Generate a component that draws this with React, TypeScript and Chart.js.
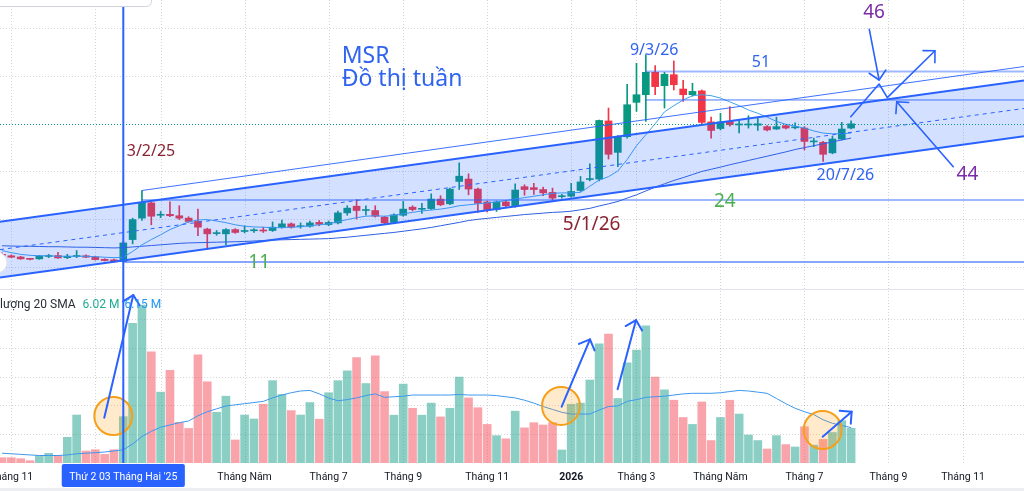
import React, { useEffect, useRef } from 'react';
import { Chart, registerables } from 'chart.js';

Chart.register(...registerables);

// ---------- weekly candles (MSR), index 0 = week of 4/11/2024 ----------
const openP = [
  12.6, 12.3, 12.05, 11.65, 11.65, 12.15, 12.35, 11.9, 12.15, 12.3,
  12.05, 11.55, 11.45, 11.1, 15.7, 20.2, 23.4, 20.8, 21.0, 20.7,
  20.2, 19.5, 17.9, 16.95, 16.9, 17.8, 17.4, 17.55, 17.65, 17.6,
  18.3, 19.0, 18.4, 18.5, 19.3, 18.85, 19.2, 21.3, 22.7, 21.8,
  21.8, 20.4, 19.3, 20.8, 22.5, 22.05, 22.2, 24.2, 23.2, 27.9,
  28.4, 26.3, 23.6, 22.0, 23.6, 22.7, 26.8, 26.6, 26.2, 25.6,
  24.7, 24.8, 26.0, 28.3, 28.4, 40.6, 34.0, 37.3, 44.5, 46.1,
  50.8, 48.0, 50.3, 47.3, 46.1, 46.9, 40.4, 39.0, 40.5, 39.75,
  39.75, 39.7, 39.4, 38.9, 39.6, 39.15, 39.1, 36.2, 36.1, 33.9,
  36.8, 39.1,
];
const highP = [
  12.9, 12.5, 12.2, 11.75, 12.4, 12.6, 13.0, 12.6, 13.4, 12.5,
  12.2, 11.7, 11.6, 15.2, 20.2, 26.0, 23.6, 21.6, 23.6, 22.8,
  20.5, 22.1, 18.1, 17.6, 18.0, 18.0, 18.6, 18.0, 18.3, 19.4,
  19.8, 19.2, 19.2, 19.6, 19.7, 19.6, 21.7, 22.8, 24.1, 22.8,
  22.8, 20.6, 21.1, 23.7, 22.8, 23.3, 25.3, 24.9, 26.5, 31.8,
  29.5, 26.5, 23.8, 23.8, 23.9, 27.4, 27.2, 27.5, 26.7, 26.5,
  25.2, 27.5, 28.95, 31.6, 40.8, 43.3, 37.5, 48.3, 52.7, 54.5,
  52.2, 50.8, 53.2, 49.1, 48.5, 47.1, 41.4, 42.2, 43.6, 40.8,
  41.7, 41.2, 39.6, 41.4, 39.8, 40.2, 39.4, 37.0, 36.3, 37.4,
  40.3, 40.6,
];
const lowP = [
  12.2, 11.9, 11.55, 11.45, 11.55, 11.9, 11.75, 11.7, 11.9, 11.9,
  11.4, 11.2, 10.95, 11.0, 14.8, 19.7, 18.8, 20.3, 20.5, 19.9,
  19.3, 16.5, 13.7, 16.6, 14.6, 17.0, 17.1, 17.2, 17.2, 17.4,
  18.1, 18.1, 18.1, 18.3, 18.6, 18.6, 19.0, 20.8, 20.0, 20.8,
  20.4, 19.0, 19.1, 20.6, 21.7, 21.2, 22.0, 22.8, 23.0, 26.2,
  25.1, 21.4, 21.5, 21.6, 22.6, 22.5, 25.0, 25.2, 24.9, 24.0,
  24.4, 24.6, 25.8, 28.0, 28.0, 32.6, 31.0, 37.0, 42.6, 40.5,
  46.1, 43.3, 47.1, 44.7, 45.8, 39.9, 37.0, 38.7, 39.5, 38.1,
  39.1, 38.6, 38.5, 38.8, 38.9, 38.9, 34.5, 35.2, 32.1, 33.7,
  36.6, 38.9,
];
const closeP = [
  12.4, 12.0, 11.65, 11.55, 12.25, 12.25, 11.85, 12.2, 12.25, 12.0,
  11.5, 11.3, 11.05, 15.0, 19.9, 23.5, 20.6, 21.0, 20.7, 20.2,
  19.5, 18.3, 16.9, 17.1, 17.8, 17.2, 17.55, 17.6, 17.5, 18.3,
  19.0, 18.3, 18.55, 19.2, 18.9, 19.3, 21.3, 22.3, 21.8, 21.9,
  20.6, 19.2, 20.9, 22.1, 22.0, 22.2, 24.2, 23.0, 26.3, 29.0,
  26.3, 23.3, 22.0, 23.6, 22.8, 26.1, 26.2, 26.2, 25.5, 24.4,
  24.85, 25.8, 27.8, 28.5, 40.7, 33.6, 37.3, 44.0, 46.1, 50.8,
  47.8, 50.4, 48.2, 46.1, 46.8, 40.3, 38.6, 40.4, 39.8, 39.85,
  39.9, 40.0, 38.7, 39.4, 39.1, 39.25, 36.3, 36.4, 33.6, 36.8,
  38.9, 40.0,
];
// volume in millions
const volume = [
  0.92, 0.92, 0.75, 0.4, 1.27, 1.68, 1.22, 4.46, 8.33, 2.08,
  2.3, 1.5, 2.3, 8.04, 24.25, 27.4, 19.3, 12.3, 16.1, 7.06,
  6.0, 18.8, 14.1, 8.8, 11.6, 4.0, 8.33, 7.64, 10.2, 14.3,
  11.9, 9.1, 8.33, 10.5, 7.6, 12.2, 14.3, 16.0, 18.3, 13.8,
  18.6, 12.4, 8.3, 13.7, 9.5, 8.3, 10.4, 8.0, 9.5, 14.9,
  11.3, 9.6, 6.7, 4.75, 4.2, 9.0, 6.1, 7.0, 6.6, 7.0,
  2.26, 10.2, 10.4, 14.4, 20.7, 22.4, 11.2, 17.4, 19.6, 23.8,
  14.9, 12.7, 10.9, 7.9, 6.7, 10.6, 3.9, 7.9, 10.9, 8.5,
  4.86, 3.9, 2.43, 4.75, 3.2, 2.78, 6.3, 3.1, 4.1, 5.3,
  7.35, 6.02,
];
// short moving average (light blue)
const maShort = [
  13.4, 12.95, 12.6, 12.4, 12.3, 12.3, 12.2, 12.2, 12.2, 12.2,
  12.1, 12.0, 11.9, 12.0, 13.2, 14.6, 15.7, 16.7, 17.8, 18.6,
  19.45, 19.8, 19.9, 19.6, 19.25, 18.8, 18.5, 18.35, 18.3, 18.2,
  18.2, 18.3, 18.4, 18.6, 18.8, 19.0, 19.45, 19.9, 20.3, 20.6,
  20.7, 20.6, 20.8, 21.1, 21.4, 21.7, 21.9, 22.1, 22.4, 22.8,
  23.0, 23.2, 23.4, 23.6, 23.9, 24.2, 24.5, 24.8, 25.1, 25.4,
  25.5, 25.5, 25.6, 26.9, 28.2, 28.9, 30.1, 32.5, 35.4, 37.7,
  40.0, 42.5, 43.8, 45.0, 45.9, 46.1, 45.9, 45.4, 44.6, 43.8,
  42.9, 42.2, 41.4, 40.5, 39.9, 39.5, 39.1, 38.5, 38.05, 37.9,
  37.9, 38.05,
];
// long moving average (blue)
const maLong = [
  14.4, 14.35, 14.3, 14.3, 14.25, 14.2, 14.2, 14.15, 14.1, 14.1,
  14.05, 14.0, 13.95, 14.0, 14.15, 14.3, 14.45, 14.6, 14.75, 14.9,
  15.0, 15.05, 15.1, 15.15, 15.2, 15.25, 15.3, 15.4, 15.5, 15.6,
  15.65, 15.7, 15.75, 15.8, 15.85, 15.9, 16.05, 16.2, 16.4, 16.6,
  16.8, 17.0, 17.2, 17.45, 17.7, 17.95, 18.25, 18.6, 18.95, 19.3,
  19.7, 19.95, 20.15, 20.35, 20.55, 20.75, 20.95, 21.1, 21.25, 21.4,
  21.5, 21.65, 21.95, 22.25, 22.75, 23.2, 23.7, 24.4, 25.1, 25.9,
  26.7, 27.4, 28.1, 28.7, 29.35, 30.0, 30.45, 30.9, 31.4, 31.85,
  32.3, 32.75, 33.2, 33.65, 34.1, 34.6, 35.0, 35.4, 35.8, 36.2,
  36.6, 37.0,
];
// volume 20 SMA
const volSma = [
  1.7, 1.6, 1.5, 1.4, 1.3, 1.3, 1.3, 1.4, 1.6, 1.7,
  1.8, 1.9, 2.1, 2.3, 3.3, 4.6, 5.5, 6.2, 6.6, 7.0,
  7.3, 8.2, 8.9, 9.4, 9.9, 10.1, 10.3, 10.5, 10.7, 11.3,
  11.8, 12.2, 12.5, 12.6, 12.0, 11.3, 10.8, 11.0, 11.3, 11.7,
  12.0, 11.4, 11.5, 11.6, 11.8, 11.8, 11.8, 11.8, 11.8, 11.9,
  11.8, 11.8, 11.8, 11.7, 11.5, 11.3, 10.9, 10.4, 9.8, 9.3,
  8.8, 8.5, 8.5, 8.5, 9.2, 9.8, 9.9, 10.7, 11.0, 11.4,
  11.5, 11.6, 11.8, 12.0, 12.1, 12.1, 12.1, 12.2, 12.4, 12.6,
  12.5, 12.3, 12.1, 11.2, 10.3, 9.5, 8.9, 8.4, 7.5, 6.9,
  6.5, 6.15,
];

// time axis
const tickIndex = [1, 10, 17, 26, 35, 43, 52, 61, 68, 77, 86, 95, 103];
const tickLabel = ['Tháng 11', '2025', 'Tháng 3', 'Tháng Năm', 'Tháng 7', 'Tháng 9', 'Tháng 11', '2026', 'Tháng 3', 'Tháng Năm', 'Tháng 7', 'Tháng 9', 'Tháng 11'];
const crosshairIndex = 13;
const crosshairLabel = "Thứ 2 03 Tháng Hai '25";
const priceGrid = [10, 20, 30, 40, 50, 60];
const volGrid = [5, 10, 15, 20, 25];
const volLegendTitle = 'Khối lượng 20 SMA';
const volLegendVol = '6.02 M';
const volLegendSma = '6.15 M';

// drawings (index, price) / (index, volume)
const channelTop: [number, number][] = [[0, 19.5], [91, 44.07]];
const channelBottom: [number, number][] = [[0, 7.8], [91, 32.37]];
const thinUpper: [number, number][] = [[15, 26.0], [100, 49.4]];
const hLines = [
  { from: 13, p: 11, w: 1.5, c: 'rgba(41,98,255,0.75)' },
  { from: 15, p: 24, w: 2, c: 'rgba(41,98,255,0.45)' },
  { from: 69, p: 45, w: 1, c: 'rgba(41,98,255,0.85)' },
  { from: 69, p: 51, w: 2, c: 'rgba(41,98,255,0.45)' },
];
const TEXT_BLUE = '#2f63f0';
const MAROON = '#8a2433';
const PURPLE = '#7b2ba6';
const GREEN_T = '#4caf50';
const notes = [
  { t: 'MSR', i: 36.4, p: 52.82, c: TEXT_BLUE, s: 23 },
  { t: 'Đồ thị tuần', i: 36.4, p: 47.95, c: TEXT_BLUE, s: 23 },
  { t: '3/2/25', i: 13.37, p: 33.2, c: MAROON, s: 16 },
  { t: '9/3/26', i: 67.3, p: 54.44, c: TEXT_BLUE, s: 16 },
  { t: '51', i: 80.35, p: 51.98, c: TEXT_BLUE, s: 16 },
  { t: '46', i: 92.3, p: 62.14, c: PURPLE, s: 19 },
  { t: '44', i: 102.3, p: 28.21, c: PURPLE, s: 19 },
  { t: '20/7/26', i: 87.3, p: 28.21, c: TEXT_BLUE, s: 16 },
  { t: '24', i: 76.3, p: 22.56, c: GREEN_T, s: 19 },
  { t: '11', i: 26.4, p: 9.67, c: GREEN_T, s: 19 },
  { t: '5/1/26', i: 60.1, p: 17.71, c: MAROON, s: 19 },
];
const priceArrows: [number, number][][] = [
  [[92.95, 59.83], [94.0, 49.19]],
  [[101.95, 31.0], [95.89, 44.64]],
  [[90.96, 41.49], [94.0, 48.35], [94.88, 45.48], [99.99, 55.34]],
];
const volArrows: [number, number][][] = [
  [[10.96, 7.86], [14.07, 29.16]],
  [[59.98, 9.77], [63.02, 21.47]],
  [[65.98, 12.79], [67.95, 24.82]],
  [[87.95, 4.57], [91.06, 8.91]],
];
const volCircles: [number, number][] = [[11.93, 8.16], [59.91, 9.9], [87.95, 5.73]];

const UP = '#089981';
const DOWN = '#f23645';
const UP_VOL = 'rgba(8,153,129,0.47)';
const DOWN_VOL = 'rgba(242,54,69,0.45)';
const LINE_BLUE = '#2962ff';
const PANE_SPLIT = 0.624;

function lineAt(pts: [number, number][], i: number) {
  const [a, b] = pts;
  return a[1] + ((b[1] - a[1]) * (i - a[0])) / (b[0] - a[0]);
}
function seg(ctx: CanvasRenderingContext2D, x1: number, y1: number, x2: number, y2: number) {
  ctx.beginPath();
  ctx.moveTo(x1, y1);
  ctx.lineTo(x2, y2);
  ctx.stroke();
}
function arrow(ctx: CanvasRenderingContext2D, pts: [number, number][], color: string, width: number) {
  ctx.strokeStyle = color;
  ctx.lineWidth = width;
  ctx.lineCap = 'round';
  ctx.lineJoin = 'round';
  ctx.setLineDash([]);
  ctx.beginPath();
  pts.forEach(([x, y], k) => (k ? ctx.lineTo(x, y) : ctx.moveTo(x, y)));
  ctx.stroke();
  const [x1, y1] = pts[pts.length - 2];
  const [x2, y2] = pts[pts.length - 1];
  const ang = Math.atan2(y2 - y1, x2 - x1);
  const L = 12;
  const h = Math.PI / 4;
  ctx.beginPath();
  ctx.moveTo(x2 - L * Math.cos(ang - h), y2 - L * Math.sin(ang - h));
  ctx.lineTo(x2, y2);
  ctx.lineTo(x2 - L * Math.cos(ang + h), y2 - L * Math.sin(ang + h));
  ctx.stroke();
}

const drawings = {
  id: 'msrDrawings',
  beforeDatasetsDraw(chart: any) {
    const { ctx, chartArea: a, scales } = chart;
    const xs = scales.x, ys = scales.y, yv = scales.yv;
    const split = a.top + (a.bottom - a.top) * PANE_SPLIT;
    ctx.save();
    ctx.strokeStyle = 'rgba(0,0,0,0.16)';
    ctx.lineWidth = 1;
    ctx.setLineDash([1, 2]);
    tickIndex.forEach((i) => {
      const x = Math.round(xs.getPixelForValue(i)) + 0.5;
      seg(ctx, x, a.top, x, a.bottom);
    });
    priceGrid.forEach((p) => {
      const y = Math.round(ys.getPixelForValue(p)) + 0.5;
      if (y < split) seg(ctx, a.left, y, a.right, y);
    });
    volGrid.forEach((v) => {
      const y = Math.round(yv.getPixelForValue(v)) + 0.5;
      if (y > split) seg(ctx, a.left, y, a.right, y);
    });
    ctx.restore();
  },
  afterDatasetsDraw(chart: any) {
    const { ctx, chartArea: a, scales } = chart;
    const xs = scales.x, ys = scales.y, yv = scales.yv;
    const X = (i: number) => xs.getPixelForValue(i);
    const Y = (p: number) => ys.getPixelForValue(p);
    const V = (v: number) => yv.getPixelForValue(v);
    const split = a.top + (a.bottom - a.top) * PANE_SPLIT;
    const L = xs.min, R = xs.max;

    // ---- price pane ----
    ctx.save();
    ctx.beginPath();
    ctx.rect(a.left, a.top, a.right - a.left, split - a.top);
    ctx.clip();
    const tL = lineAt(channelTop, L), tR = lineAt(channelTop, R);
    const bL = lineAt(channelBottom, L), bR = lineAt(channelBottom, R);
    ctx.fillStyle = 'rgba(41,98,255,0.2)';
    ctx.beginPath();
    ctx.moveTo(X(L), Y(tL));
    ctx.lineTo(X(R), Y(tR));
    ctx.lineTo(X(R), Y(bR));
    ctx.lineTo(X(L), Y(bL));
    ctx.closePath();
    ctx.fill();
    ctx.strokeStyle = LINE_BLUE;
    ctx.lineWidth = 1;
    ctx.setLineDash([4, 4]);
    seg(ctx, X(L), Y((tL + bL) / 2), X(R), Y((tR + bR) / 2));
    ctx.setLineDash([]);
    ctx.lineWidth = 2;
    seg(ctx, X(L), Y(tL), X(R), Y(tR));
    seg(ctx, X(L), Y(bL), X(R), Y(bR));
    ctx.lineWidth = 1;
    ctx.strokeStyle = 'rgba(41,98,255,0.9)';
    seg(ctx, X(thinUpper[0][0]), Y(thinUpper[0][1]), X(R), Y(lineAt(thinUpper, R)));
    hLines.forEach((h) => {
      ctx.strokeStyle = h.c;
      ctx.lineWidth = h.w;
      const y = Y(h.p);
      seg(ctx, X(h.from), y, X(R), y);
    });
    // last price line
    const last = closeP[closeP.length - 1];
    ctx.strokeStyle = UP;
    ctx.lineWidth = 1;
    ctx.setLineDash([1, 2]);
    const yl = Math.round(Y(last)) + 0.5;
    seg(ctx, a.left, yl, a.right, yl);
    ctx.setLineDash([]);
    // texts
    ctx.textAlign = 'left';
    ctx.textBaseline = 'alphabetic';
    notes.forEach((n) => {
      ctx.font = `${n.s}px "Noto Sans", "Open Sans", sans-serif`;
      ctx.fillStyle = n.c;
      ctx.fillText(n.t, X(n.i), Y(n.p));
    });
    priceArrows.forEach((pts) => arrow(ctx, pts.map(([i, p]) => [X(i), Y(p)] as [number, number]), LINE_BLUE, 1.6));
    ctx.restore();

    // ---- volume pane ----
    ctx.save();
    ctx.beginPath();
    ctx.rect(a.left, split, a.right - a.left, a.bottom - split);
    ctx.clip();
    volCircles.forEach(([i, v]) => {
      ctx.beginPath();
      ctx.arc(X(i), V(v), 19, 0, Math.PI * 2);
      ctx.fillStyle = 'rgba(255,152,0,0.2)';
      ctx.fill();
      ctx.strokeStyle = '#f5a01a';
      ctx.lineWidth = 2;
      ctx.stroke();
    });
    volArrows.forEach((pts) => arrow(ctx, pts.map(([i, v]) => [X(i), V(v)] as [number, number]), LINE_BLUE, 2));
    // legend
    ctx.font = '12px Roboto, "Noto Sans", sans-serif';
    ctx.textBaseline = 'alphabetic';
    ctx.textAlign = 'left';
    const cut = ctx.measureText('Khối ').width;
    const ly = split + 19;
    ctx.fillStyle = '#2a2e39';
    ctx.fillText(volLegendTitle, a.left - cut, ly);
    const tw = ctx.measureText(volLegendTitle).width - cut;
    ctx.fillStyle = '#22ab94';
    ctx.fillText(volLegendVol, a.left + tw + 7, ly);
    const vw = ctx.measureText(volLegendVol).width;
    ctx.fillStyle = '#2196f3';
    ctx.fillText(volLegendSma, a.left + tw + 7 + vw + 5, ly);
    ctx.restore();

    // ---- pane separator & crosshair vertical line ----
    ctx.save();
    ctx.strokeStyle = '#e0e3eb';
    ctx.lineWidth = 1;
    seg(ctx, a.left, Math.round(split) + 0.5, a.right, Math.round(split) + 0.5);
    ctx.strokeStyle = LINE_BLUE;
    ctx.lineWidth = 2;
    const xc = X(crosshairIndex);
    seg(ctx, xc, a.top, xc, a.bottom);
    ctx.restore();
  },
  afterDraw(chart: any) {
    const { ctx, chartArea: a, scales } = chart;
    const xs = scales.x;
    ctx.save();
    // time axis labels
    ctx.textAlign = 'center';
    ctx.textBaseline = 'middle';
    const ly = a.bottom + 14;
    tickIndex.forEach((i, k) => {
      const bold = /^\d{4}$/.test(tickLabel[k]);
      ctx.font = `${bold ? 'bold ' : ''}10.5px Roboto, "Noto Sans", sans-serif`;
      ctx.fillStyle = '#131722';
      ctx.fillText(tickLabel[k], xs.getPixelForValue(i), ly);
    });
    // crosshair time label
    ctx.font = '10.5px Roboto, "Noto Sans", sans-serif';
    const w = ctx.measureText(crosshairLabel).width + 15;
    const xc = xs.getPixelForValue(crosshairIndex);
    ctx.fillStyle = LINE_BLUE;
    ctx.beginPath();
    (ctx as any).roundRect(xc - w / 2, a.bottom + 1, w, 23, 2);
    ctx.fill();
    ctx.fillStyle = '#ffffff';
    ctx.fillText(crosshairLabel, xc, ly);
    // bottom border
    ctx.fillStyle = '#eceef2';
    ctx.fillRect(0, chart.height - 3, chart.width, 3);
    // top-left legend panel (cut off)
    ctx.fillStyle = '#ffffff';
    ctx.strokeStyle = '#d1d4dc';
    ctx.lineWidth = 1;
    ctx.beginPath();
    (ctx as any).roundRect(-6.5, -12.5, 158, 19, 5);
    ctx.fill();
    ctx.stroke();
    // left scroll button
    ctx.beginPath();
    ctx.arc(-3.5, a.top + (a.bottom - a.top) * 0.567, 10.5, 0, Math.PI * 2);
    ctx.fillStyle = '#ffffff';
    ctx.fill();
    ctx.strokeStyle = '#e0e3eb';
    ctx.stroke();
    ctx.restore();
  },
};

export default function App() {
  const ref = useRef<HTMLCanvasElement | null>(null);
  useEffect(() => {
    document.body.style.margin = '0';
    document.body.style.overflow = 'hidden';
    if (!ref.current) return;
    const idx = openP.map((_, i) => i);
    const isUp = idx.map((i) => closeP[i] >= openP[i]);
    const chart = new Chart(ref.current, {
      type: 'bar',
      data: {
        datasets: [
          {
            type: 'line',
            label: 'MA ngắn',
            data: idx.map((i) => ({ x: i, y: maShort[i] })),
            yAxisID: 'y',
            borderColor: '#3fa0ee',
            borderWidth: 1,
            pointRadius: 0,
            tension: 0,
            order: 1,
          } as any,
          {
            type: 'line',
            label: 'MA dài',
            data: idx.map((i) => ({ x: i, y: maLong[i] })),
            yAxisID: 'y',
            borderColor: '#2f5fe0',
            borderWidth: 1,
            pointRadius: 0,
            tension: 0,
            order: 2,
          } as any,
          {
            type: 'bar',
            label: 'Thân nến',
            data: idx.map((i) => ({ x: i, y: [openP[i], closeP[i]] })),
            yAxisID: 'y',
            backgroundColor: idx.map((i) => (isUp[i] ? UP : DOWN)),
            barThickness: 7,
            minBarLength: 1,
            grouped: false,
            borderWidth: 0,
            order: 3,
          } as any,
          {
            type: 'bar',
            label: 'Bóng nến',
            data: idx.map((i) => ({ x: i, y: [lowP[i], highP[i]] })),
            yAxisID: 'y',
            backgroundColor: idx.map((i) => (isUp[i] ? UP : DOWN)),
            barThickness: 1,
            grouped: false,
            borderWidth: 0,
            order: 4,
          } as any,
          {
            type: 'line',
            label: 'SMA 20 KL',
            data: idx.map((i) => ({ x: i, y: volSma[i] })),
            yAxisID: 'yv',
            borderColor: '#3d97ee',
            borderWidth: 1,
            pointRadius: 0,
            tension: 0,
            order: 5,
          } as any,
          {
            type: 'bar',
            label: 'Khối lượng',
            data: idx.map((i) => ({ x: i, y: volume[i] })),
            yAxisID: 'yv',
            backgroundColor: idx.map((i) => (isUp[i] ? UP_VOL : DOWN_VOL)),
            barThickness: 8,
            grouped: false,
            borderWidth: 0,
            order: 6,
          } as any,
        ],
      },
      options: {
        animation: false,
        responsive: true,
        maintainAspectRatio: false,
        events: [],
        layout: { padding: { left: 0, right: 0, top: 0, bottom: 28 } },
        plugins: { legend: { display: false }, tooltip: { enabled: false } },
        scales: {
          x: { type: 'linear', min: -0.214, max: 109.53, offset: false, display: false, grid: { display: false } },
          y: { type: 'linear', min: -31.19, max: 65.98, display: false, grid: { display: false } },
          yv: { type: 'linear', min: 0, max: 80.38, display: false, grid: { display: false } },
        },
      } as any,
      plugins: [drawings as any],
    });
    return () => chart.destroy();
  }, []);
  return (
    <div style={{ position: 'relative', width: 1024, height: 491, background: '#ffffff' }}>
      <canvas ref={ref} />
    </div>
  );
}
